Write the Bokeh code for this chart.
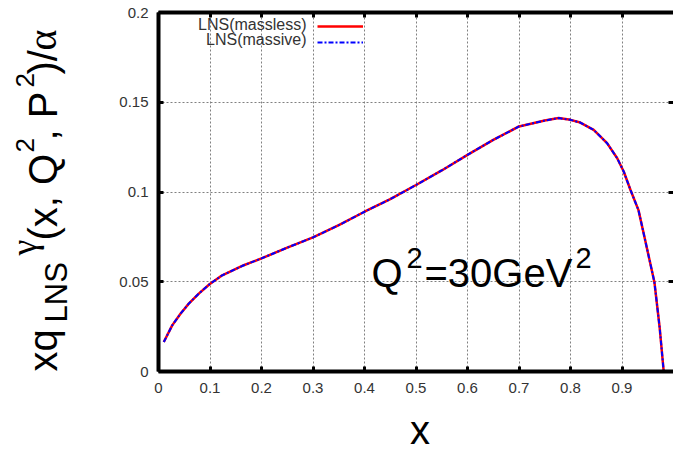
import math
from bokeh.plotting import figure
from bokeh.layouts import row, column
from bokeh.models import (Range1d, LinearAxis, FixedTicker, CustomJSTickFormatter,
                          Label, Legend, LegendItem)
from bokeh.core.properties import value
from bokeh.embed import file_html
from bokeh.resources import INLINE

# ---- data ----
x_vals = [0.0103, 0.0266, 0.0427, 0.0588, 0.0783, 0.099, 0.1237, 0.1656, 0.2, 0.25,
          0.3, 0.35, 0.4, 0.45, 0.5, 0.55, 0.6, 0.65, 0.7, 0.75, 0.777, 0.8, 0.819,
          0.845, 0.871, 0.8907, 0.9035, 0.9165, 0.932, 0.942, 0.963, 0.973, 0.981]
y_massless = [0.0164, 0.0257, 0.0322, 0.0378, 0.0434, 0.0486, 0.0536, 0.0592, 0.063,
              0.069, 0.0747, 0.0815, 0.089, 0.096, 0.1039, 0.112, 0.1207, 0.129,
              0.1365, 0.1398, 0.1412, 0.1402, 0.1387, 0.1346, 0.1272, 0.1188, 0.1113,
              0.1011, 0.0899, 0.077, 0.0497, 0.0248, 0.0]
y_massive = [0.0164, 0.0257, 0.0322, 0.0378, 0.0434, 0.0486, 0.0536, 0.0592, 0.063,
             0.069, 0.0747, 0.0815, 0.089, 0.096, 0.1039, 0.112, 0.1207, 0.129,
             0.1365, 0.1398, 0.1412, 0.1402, 0.1387, 0.1346, 0.1272, 0.1188, 0.1113,
             0.1011, 0.0899, 0.077, 0.0497, 0.0248, 0.0]
x_ticks = [0, 0.1, 0.2, 0.3, 0.4, 0.5, 0.6, 0.7, 0.8, 0.9]
y_ticks = [0, 0.05, 0.1, 0.15, 0.2]
series_names = ["LNS(massless)", "LNS(massive)"]

X0, X1, Y0, Y1 = 0, 1, 0, 0.2

SANS = "Liberation Sans"
SERIF = "Liberation Serif"
TICK_COLOR = "#333333"
SHIFT = 0.5              # observed baseline drop of rendered text, in em

W, H = 673, 453          # whole page picture
WL = 110                 # strip holding the rotated y title
HB = 53                  # strip holding the x title
# page-pixel frame geometry (used only to place annotations)
FL, FR, FT, FB = 158, 673, 12, 371


def dx(px):
    return X0 + (px - FL) / (FR - FL) * (X1 - X0)


def dy(py):
    return Y0 + (FB - py) / (FB - FT) * (Y1 - Y0)


p = figure(width=W - WL, height=H - HB, output_backend="svg", toolbar_location=None,
           x_range=Range1d(X0, X1), y_range=Range1d(Y0, Y1),
           min_border_left=FL - WL, min_border_right=0, min_border_top=FT,
           min_border_bottom=(H - HB) - FB)
p.background_fill_color = "white"
p.border_fill_color = "white"
p.outline_line_color = None

fmt = CustomJSTickFormatter(code="return tick.toString();")


def style_axis(ax, ticks, show_line):
    ax.ticker = FixedTicker(ticks=ticks)
    ax.formatter = fmt
    if show_line:
        ax.axis_line_color = "black"
        ax.axis_line_width = 4
    else:
        ax.axis_line_color = None
    ax.major_tick_in = 5
    ax.major_tick_out = 0
    ax.major_tick_line_width = 3
    ax.major_tick_line_color = "black"
    ax.minor_tick_line_color = None


xa = p.xaxis[0]
ya = p.yaxis[0]
style_axis(xa, x_ticks, True)
style_axis(ya, y_ticks, True)
for ax in (xa, ya):
    ax.major_label_text_font = SANS
    ax.major_label_text_font_size = "15px"
    ax.major_label_text_color = TICK_COLOR
xa.major_label_standoff = 11
ya.major_label_standoff = 10

for loc, ticks, show in (("above", x_ticks, True), ("right", y_ticks, False)):
    ax = LinearAxis()
    style_axis(ax, ticks, show)
    ax.major_label_text_font_size = "0px"
    ax.major_label_text_color = None
    ax.major_label_standoff = 0
    p.add_layout(ax, loc)

p.xgrid.ticker = FixedTicker(ticks=x_ticks)
p.ygrid.ticker = FixedTicker(ticks=y_ticks)
for g in (p.xgrid[0], p.ygrid[0]):
    g.grid_line_color = "#808080"
    g.grid_line_dash = "2 2"
    g.grid_line_width = 1

r1 = p.line(x_vals, y_massless, line_color="#ff0000", line_width=2.5)
r2 = p.line(x_vals, y_massive, line_color="#0000ff", line_width=2, line_dash="5 2 2 2")

# legend: gnuplot style, text right-aligned, sample line to the right.
# one single-row legend per series so each sample sits on its own row centre
ROW_H = 20
for rend, name, centre, base in ((r1, series_names[0], 25.7, 31.5),
                                 (r2, series_names[1], 42.3, 47)):
    lg = Legend(items=[LegendItem(label=value(""), renderers=[rend])],
                location=(317 - FL, round(FB - centre - ROW_H / 2)),
                orientation="vertical", padding=0, margin=0,
                glyph_width=46, glyph_height=ROW_H, label_height=ROW_H,
                label_width=0, label_standoff=0, spacing=0,
                border_line_color=None, background_fill_alpha=0,
                label_text_font_size="1px", label_text_color=None)
    p.add_layout(lg)
    p.add_layout(Label(x=dx(306), y=dy(base - SHIFT * 16), text=name,
                       text_align="right", text_baseline="alphabetic",
                       text_font=SANS, text_font_size="16px", text_color=TICK_COLOR))

# Q^2 = 30 GeV^2 annotation: (text, font px, left x, baseline y) in page pixels
q_parts = [("Q", 40, 371, 292), ("2", 29, 406, 272), ("=30GeV", 40, 424, 292),
           ("2", 29, 575, 272)]
for txt, fs, px, py in q_parts:
    p.add_layout(Label(x=dx(px), y=dy(py - SHIFT * fs), text=txt, text_align="left",
                       text_baseline="alphabetic", text_font=SANS,
                       text_font_size=f"{fs}px", text_color="black"))


def blank_fig(w, h, xr, yr):
    f = figure(width=w, height=h, output_backend="svg", toolbar_location=None,
               x_range=Range1d(*xr), y_range=Range1d(*yr),
               x_axis_type=None, y_axis_type=None,
               min_border_left=0, min_border_right=0, min_border_top=0,
               min_border_bottom=0)
    f.outline_line_color = None
    f.grid.visible = False
    f.background_fill_color = "white"
    f.border_fill_color = "white"
    return f


# rotated y-axis title: xq_LNS^gamma(x, Q^2, P^2)/alpha
# (text, font px, start y, baseline x, family) in page pixels
pt = blank_fig(WL, H, (0, WL), (H, 0))
y_parts = [("xq", 40, 371, 62, SANS), ("LNS", 31, 322, 71, SANS),
           ("γ", 36, 255, 41, SERIF), ("(x, Q", 40, 240, 62, SANS),
           ("2", 26, 152, 37, SANS), (", P", 40, 140, 62, SANS),
           ("2", 26, 87, 37, SANS), (")/", 40, 74, 62, SANS),
           ("α", 40, 50, 62, SERIF)]
for txt, fs, py, px, fam in y_parts:
    pt.text(x=[px - SHIFT * fs], y=[py], text=[txt], angle=math.pi / 2,
            text_align="left", text_baseline="alphabetic", text_font=value(fam),
            text_font_size=value(f"{fs}px"), text_color="black")

# x-axis title strip (offset-corrected anchor, kept fully inside the strip)
pb = blank_fig(W - WL, HB, (WL, W), (H, H - HB))
pb.text(x=[396], y=[429], text=["x"], text_align="center",
        text_baseline="alphabetic", text_font=value(SANS),
        text_font_size=value("40px"), text_color="black")

layout = row(pt, column(p, pb, spacing=0), spacing=0)
open("out.html", "w").write(file_html(layout, INLINE))
